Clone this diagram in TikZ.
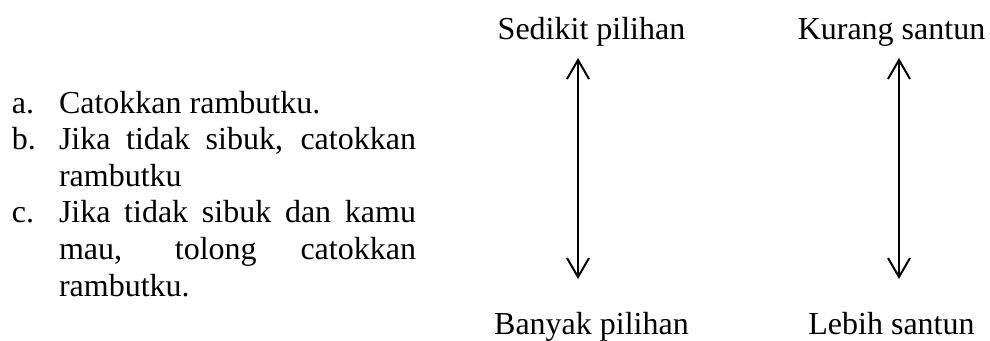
\documentclass[tikz,border=0pt]{standalone}
\usepackage{fontspec}
\setmainfont{Liberation Serif}
\usetikzlibrary{arrows.meta}

\begin{document}
\begin{tikzpicture}[x=1pt,y=-1pt,
  every node/.style={inner sep=0pt,outer sep=0pt,font=\fontsize{32}{37}\selectfont},
  marker/.style={anchor=base west},
  itemline/.style={anchor=base west},
  scalelabel/.style={anchor=base},
  scalearrow/.style={line width=2pt,
    {Straight Barb[length=19pt,width=22pt,line width=2pt]}-{Straight Barb[length=19pt,width=22pt,line width=2pt]}}]
\useasboundingbox (0,0) rectangle (990,340);

% numbered requests
\node[marker] (la) at (12,113) {a.};
\node[itemline] (a1) at (59,113) {Catokkan rambutku.};
\node[marker] (lb) at (12,149.6) {b.};
\node[itemline] (b1) at (59,149.6) {\makebox[357pt][s]{Jika tidak sibuk, catokkan}};
\node[itemline] (b2) at (59,186.2) {rambutku};
\node[marker] (lc) at (12,222.8) {c.};
\node[itemline] (c1) at (59,222.8) {\makebox[357pt][s]{Jika tidak sibuk dan kamu}};
\node[itemline] (c2) at (59,259.4) {\makebox[357pt][s]{mau, tolong catokkan}};
\node[itemline] (c3) at (59,296) {rambutku.};

% scale of choices
\node[scalelabel] (sedikit) at (591.5,39.5) {Sedikit pilihan};
\node[scalelabel] (banyak) at (591.5,334) {Banyak pilihan};
\coordinate (chtop) at (578,58);
\coordinate (chbot) at (578,279);
\draw[scalearrow] (chtop) -- (chbot);

% scale of politeness
\node[scalelabel] (kurang) at (891.5,39.5) {Kurang santun};
\node[scalelabel] (lebih) at (891.5,334) {Lebih santun};
\coordinate (potop) at (899,58);
\coordinate (pobot) at (899,279);
\draw[scalearrow] (potop) -- (pobot);
\end{tikzpicture}
\end{document}
